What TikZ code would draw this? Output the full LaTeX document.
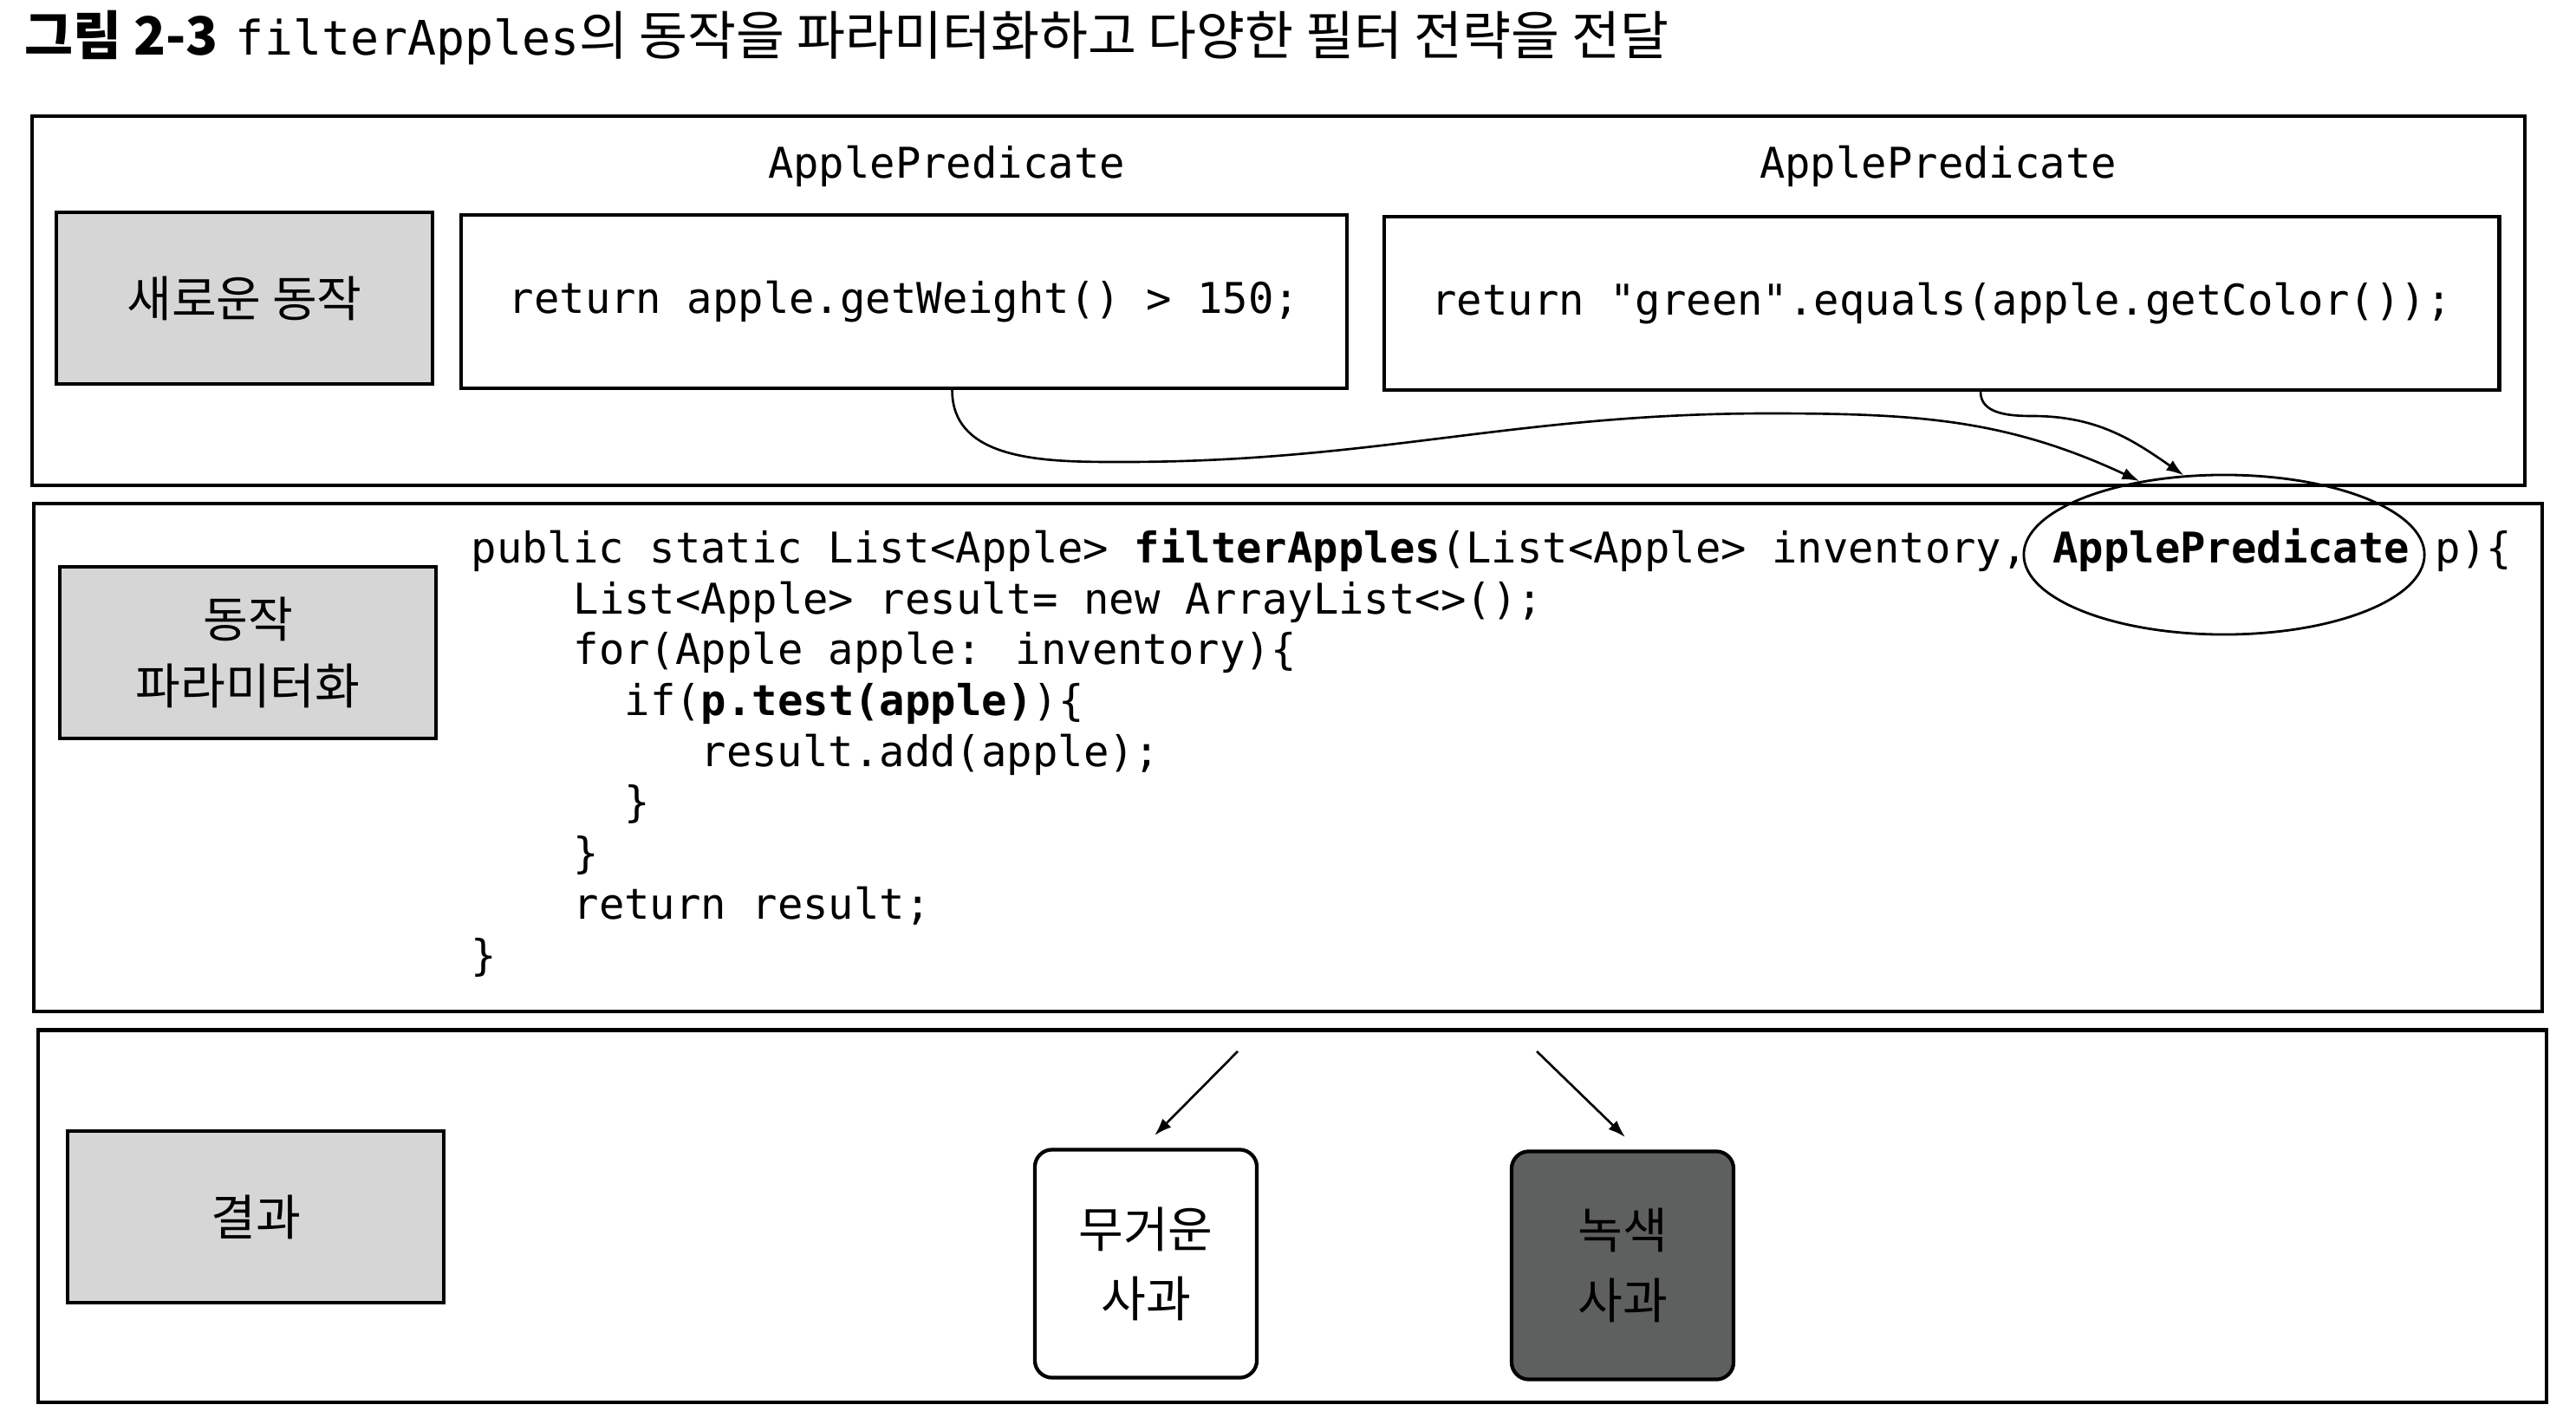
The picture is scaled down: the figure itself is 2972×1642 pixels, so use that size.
\documentclass[tikz,border=0pt]{standalone}
\usepackage{fontspec}
\setmainfont{Noto Sans CJK KR}
\newfontfamily\monof{DejaVu Sans Mono}
\usetikzlibrary{arrows.meta,shapes.geometric}
\definecolor{lightbox}{RGB}{214,214,214}
\definecolor{darkbox}{RGB}{94,96,95}
\tikzset{
  panel/.style={draw, line width=1.2pt, inner sep=0pt},
  lblbox/.style={draw, fill=lightbox, line width=1.2pt, minimum width=4.34cm,
    minimum height=1.98cm, inner sep=0pt, align=center,
    font=\fontsize{16pt}{21.9pt}\selectfont},
  codebox/.style={draw, line width=1.2pt, minimum height=2.0cm, inner sep=0pt,
    font=\monof\fontsize{13.9pt}{16pt}\selectfont},
  monolbl/.style={inner sep=0pt, font=\monof\fontsize{13.9pt}{16pt}\selectfont},
  codetxt/.style={anchor=base west, inner sep=0pt,
    font=\monof\fontsize{13.9pt}{16pt}\selectfont},
  applebox/.style={draw, line width=1.2pt, rounded corners=0.2cm,
    minimum width=2.56cm, minimum height=2.63cm, inner sep=0pt, align=center,
    font=\fontsize{16pt}{22.8pt}\selectfont},
  arr/.style={line width=0.75pt, -{Latex[length=0.2cm,width=0.14cm]}},
}
\begin{document}
\begin{tikzpicture}[x=0.01cm, y=-0.01cm]
\useasboundingbox (0,0) rectangle (2972,1642);
\fill[white] (0,0) rectangle (2972,1642);

% title
\node[anchor=west, inner sep=0pt, font=\fontsize{17.3pt}{20pt}\selectfont] (title) at (28,44)
  {{\bfseries 그림 2-3}\hspace{0.2cm}{\monof\fontsize{15.6pt}{18pt}\selectfont filterApples}의 동작을 파라미터화하고 다양한 필터 전략을 전달};

% panels
\node[panel, minimum width=28.74cm, minimum height=4.26cm] (ptop) at (1475,347) {};
\node[panel, minimum width=28.92cm, minimum height=5.86cm] (pmid) at (1486,874) {};
\node[panel, minimum width=28.93cm, minimum height=4.29cm] (pbot) at (1491,1403) {};

% label boxes
\node[lblbox] (lnew) at (282,344) {새로운 동작};
\node[lblbox] (lparam) at (286,753) {동작\\파라미터화};
\node[lblbox] (lres) at (295,1404) {결과};

% predicate labels and code boxes
\node[monolbl] (ap1) at (1092,192) {ApplePredicate};
\node[monolbl] (ap2) at (2236,192) {ApplePredicate};
\node[codebox, minimum width=10.21cm] (box1) at (1043,348) {return apple.getWeight() > 150;};
\node[codebox, minimum width=12.86cm] (box2) at (2240,350) {return "green".equals(apple.getColor());};

% code lines
\node[codetxt] (c1) at (543,649) {public static List<Apple> \textbf{filterApples}(List<Apple> inventory, \textbf{ApplePredicate} p)\{};
\node[codetxt] (c2) at (661,708) {List<Apple> result= new ArrayList<>();};
\node[codetxt] (c3) at (661,766) {for(Apple apple: inventory)\{};
\node[codetxt] (c4) at (720,825) {if(\textbf{p.test(apple)})\{};
\node[codetxt] (c5) at (808,884) {result.add(apple);};
\node[codetxt] (c6) at (720,942) {\}};
\node[codetxt] (c7) at (661,1001) {\}};
\node[codetxt] (c8) at (661,1060) {return result;};
\node[codetxt] (c9) at (543,1119) {\}};

% ellipse around ApplePredicate
\node[draw, ellipse, line width=0.8pt, minimum width=4.62cm, minimum height=1.84cm, inner sep=0pt] (ell) at (2566,640) {};

% curved connectors
\coordinate (s1) at ([xshift=0.555cm]box1.south);
\coordinate (s2) at ([xshift=0.45cm]box2.south);
\draw[arr] (s1) to[out=-90,in=180] (1296,533) to[out=0,in=180] (2040,477) to[out=0,in=155] (ell.139);
\draw[arr] (s2) to[out=-90,in=180] (2345,480) to[out=0,in=145] (ell.117);

% result boxes
\node[applebox, fill=white] (heavy) at (1322,1458) {무거운\\사과};
\node[applebox, fill=darkbox] (green) at (1872,1460) {녹색\\사과};

\coordinate (a1s) at (1428,1213);
\coordinate (a1e) at (1332,1310);
\coordinate (a2s) at (1773,1213);
\coordinate (a2e) at (1875,1312);
\draw[arr] (a1s) -- (a1e);
\draw[arr] (a2s) -- (a2e);
\end{tikzpicture}
\end{document}
